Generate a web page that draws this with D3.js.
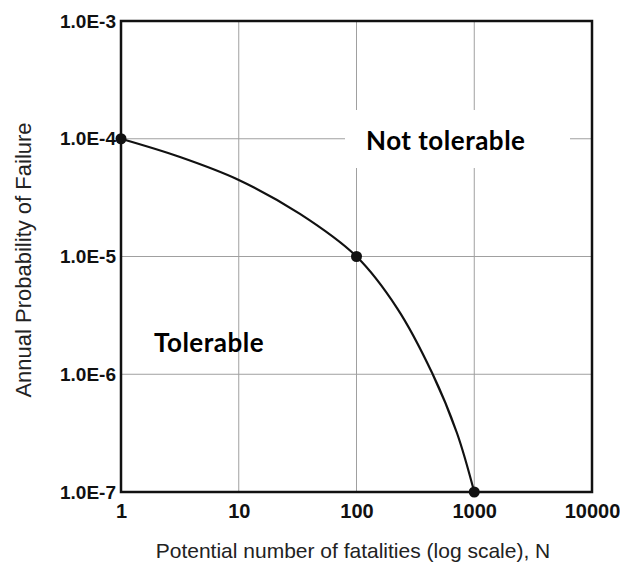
<!DOCTYPE html>
<html>
<head>
<meta charset="utf-8">
<script src="https://cdn.jsdelivr.net/npm/d3@7"></script>
<style>
  html, body { margin: 0; padding: 0; background: #fff; }
  svg { display: block; }
</style>
</head>
<body>
<svg id="chart" width="620" height="565"></svg>
<script>
// Decade ticks on both log axes
const xTicks = [1, 10, 100, 1000, 10000];
const xTickLabels = ["1", "10", "100", "1000", "10000"];
const yTicks = [1e-7, 1e-6, 1e-5, 1e-4, 1e-3];
const yTickLabels = ["1.0E-7", "1.0E-6", "1.0E-5", "1.0E-4", "1.0E-3"];

// Anchor points of the tolerability limit (N, annual probability)
const markerN = [1, 100, 1000];
const markerP = [1e-4, 1e-5, 1e-7];

// Limit curve traced between the anchors
const curveN = [1, 3.17, 10, 33.1, 100, 221, 438, 713, 1000];
const curveP = [1e-4, 7.0e-5, 4.47e-5, 2.3e-5, 1e-5, 3.65e-6, 1.03e-6, 3.17e-7, 1e-7];

const svg = d3.select("#chart");
const plotLeft = 121, plotRight = 592, plotTop = 21, plotBottom = 492;

const x = d3.scaleLog().domain([1, 10000]).range([plotLeft, plotRight]);
const y = d3.scaleLog().domain([1e-7, 1e-3]).range([plotBottom, plotTop]);

// Grid
const grid = svg.append("g").attr("stroke", "#a0a0a0").attr("stroke-width", 1);
grid.selectAll("line.v").data(xTicks.slice(1, -1)).join("line")
  .attr("x1", d => x(d)).attr("x2", d => x(d))
  .attr("y1", plotTop).attr("y2", plotBottom);
grid.selectAll("line.h").data(yTicks.slice(1, -1)).join("line")
  .attr("x1", plotLeft).attr("x2", plotRight)
  .attr("y1", d => y(d)).attr("y2", d => y(d));

// White label panel sitting over the grid
svg.append("rect")
  .attr("x", 345).attr("y", 110).attr("width", 225).attr("height", 58)
  .attr("fill", "#fff");

// Frame
svg.append("rect")
  .attr("x", plotLeft).attr("y", plotTop)
  .attr("width", plotRight - plotLeft).attr("height", plotBottom - plotTop)
  .attr("fill", "none").attr("stroke", "#111").attr("stroke-width", 2.5);

// Limit curve
const pts = curveN.map((n, i) => [n, curveP[i]]);
svg.append("path")
  .datum(pts)
  .attr("fill", "none").attr("stroke", "#111").attr("stroke-width", 2.2)
  .attr("d", d3.line().x(d => x(d[0])).y(d => y(d[1])).curve(d3.curveCatmullRom.alpha(0.5)));

// Anchor markers
svg.selectAll("circle.m").data(markerN).join("circle")
  .attr("cx", d => x(d)).attr("cy", (d, i) => y(markerP[i]))
  .attr("r", 5.5).attr("fill", "#111");

// Axes (labels only; the frame carries the lines)
const xAxis = d3.axisBottom(x).tickValues(xTicks)
  .tickFormat((d, i) => xTickLabels[i]).tickSize(0).tickPadding(12);
svg.append("g").attr("transform", `translate(0,${plotBottom})`).call(xAxis)
  .call(g => g.select(".domain").remove())
  .selectAll("text")
  .attr("font-family", "'Liberation Sans', Arial, sans-serif")
  .attr("font-weight", "bold").attr("font-size", 20).attr("fill", "#111");

const yAxis = d3.axisLeft(y).tickValues(yTicks)
  .tickFormat((d, i) => yTickLabels[i]).tickSize(0).tickPadding(5);
svg.append("g").attr("transform", `translate(${plotLeft},0)`).call(yAxis)
  .call(g => g.select(".domain").remove())
  .selectAll("text")
  .attr("font-family", "'Liberation Sans', Arial, sans-serif")
  .attr("font-weight", "bold").attr("font-size", 19).attr("fill", "#111");

// Axis titles
svg.append("text")
  .attr("x", 353).attr("y", 558).attr("text-anchor", "middle")
  .attr("font-family", "'Liberation Sans', Arial, sans-serif")
  .attr("font-size", 21).attr("fill", "#222")
  .text("Potential number of fatalities (log scale), N");

svg.append("text")
  .attr("transform", "translate(31,260) rotate(-90)")
  .attr("text-anchor", "middle")
  .attr("font-family", "'Liberation Sans', Arial, sans-serif")
  .attr("font-size", 22).attr("fill", "#222")
  .text("Annual Probability of Failure");

// Region labels
svg.append("text")
  .attr("x", 366).attr("y", 150)
  .attr("font-family", "Lato, 'Open Sans', sans-serif")
  .attr("font-weight", "bold").attr("font-size", 26).attr("letter-spacing", 0.5)
  .attr("fill", "#000")
  .text("Not tolerable");

svg.append("text")
  .attr("x", 154).attr("y", 352)
  .attr("font-family", "Lato, 'Open Sans', sans-serif")
  .attr("font-weight", "bold").attr("font-size", 26).attr("letter-spacing", 0.5)
  .attr("fill", "#000")
  .text("Tolerable");
</script>
</body>
</html>
